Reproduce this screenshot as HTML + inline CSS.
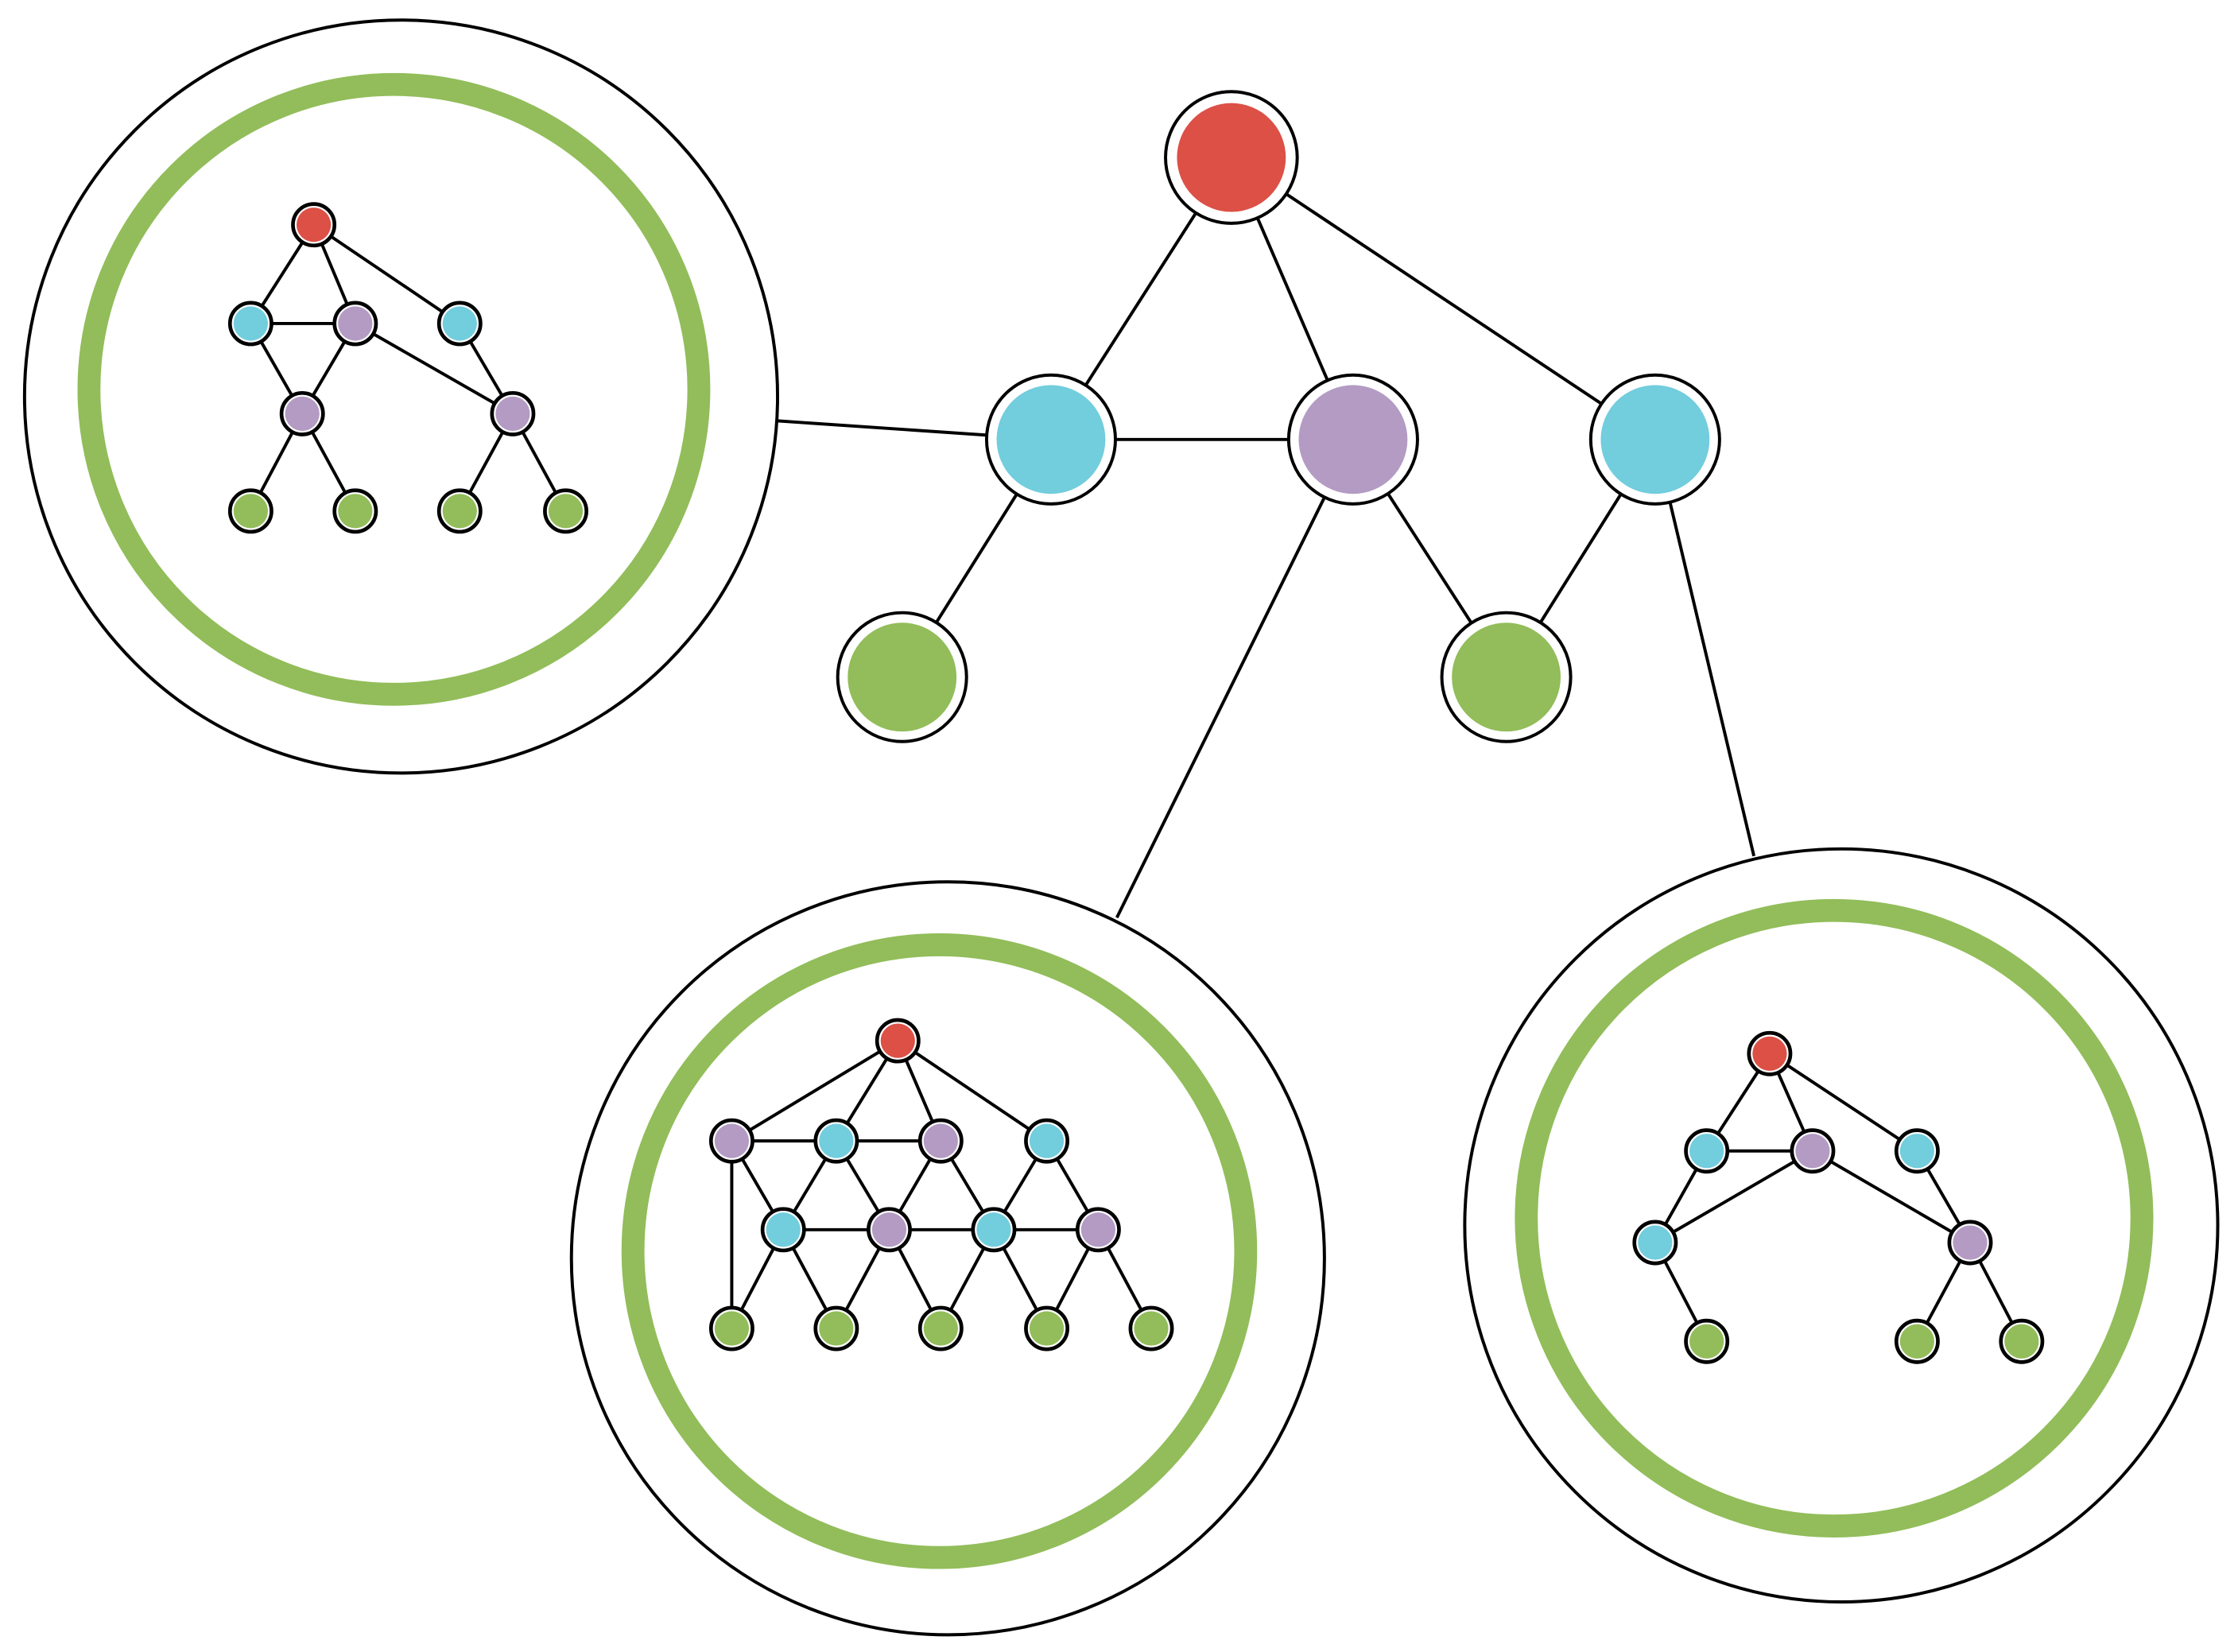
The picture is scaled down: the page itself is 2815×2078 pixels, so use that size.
<!DOCTYPE html>
<html><head><meta charset="utf-8"><style>html,body{margin:0;padding:0;background:#fff}svg{display:block}</style></head>
<body>
<svg width="2815" height="2078" viewBox="0 0 1563 1154" xmlns="http://www.w3.org/2000/svg">
<g stroke="#000" stroke-width="2.2" fill="none">
<line x1="860" y1="110" x2="734" y2="307"/>
<line x1="860" y1="110" x2="945" y2="307"/>
<line x1="860" y1="110" x2="1156" y2="307"/>
<line x1="734" y1="307" x2="945" y2="307"/>
<line x1="734" y1="307" x2="630" y2="473"/>
<line x1="945" y1="307" x2="1052" y2="473"/>
<line x1="1156" y1="307" x2="1052" y2="473"/>
<line x1="945" y1="307" x2="780" y2="641"/>
<line x1="1156" y1="307" x2="1225" y2="598"/>
<line x1="734" y1="307" x2="543" y2="294"/>
<circle cx="280" cy="277" r="263" fill="#fff"/>
<circle cx="662" cy="879" r="263" fill="#fff"/>
<circle cx="1286" cy="856" r="263" fill="#fff"/>
</g>
<g fill="none" stroke="#92bd5a" stroke-width="16">
<circle cx="275" cy="272" r="213"/>
<circle cx="656" cy="874" r="214"/>
<circle cx="1281" cy="851" r="215"/>
</g>
<g stroke="#000" stroke-width="2.2" fill="#fff">
<circle cx="860" cy="110" r="46"/><circle cx="734" cy="307" r="45"/><circle cx="945" cy="307" r="45"/><circle cx="1156" cy="307" r="45"/><circle cx="630" cy="473" r="45"/><circle cx="1052" cy="473" r="45"/>
</g>
<circle cx="860" cy="110" r="38" fill="#dc5046"/>
<circle cx="734" cy="307" r="38" fill="#72cddd"/>
<circle cx="945" cy="307" r="38" fill="#b39bc4"/>
<circle cx="1156" cy="307" r="38" fill="#72cddd"/>
<circle cx="630" cy="473" r="38" fill="#92bd5a"/>
<circle cx="1052" cy="473" r="38" fill="#92bd5a"/>

<g stroke="#000" stroke-width="2.2">
<line x1="219" y1="157" x2="175" y2="226"/><line x1="219" y1="157" x2="248" y2="226"/><line x1="219" y1="157" x2="321" y2="226"/>
<line x1="175" y1="226" x2="248" y2="226"/><line x1="175" y1="226" x2="211" y2="289"/><line x1="248" y1="226" x2="211" y2="289"/>
<line x1="248" y1="226" x2="358" y2="289"/><line x1="321" y1="226" x2="358" y2="289"/>
<line x1="211" y1="289" x2="175" y2="357"/><line x1="211" y1="289" x2="248" y2="357"/>
<line x1="358" y1="289" x2="321" y2="357"/><line x1="358" y1="289" x2="395" y2="357"/>
<line x1="627" y1="727" x2="511" y2="797"/><line x1="627" y1="727" x2="584" y2="797"/><line x1="627" y1="727" x2="657" y2="797"/><line x1="627" y1="727" x2="731" y2="797"/>
<line x1="511" y1="797" x2="657" y2="797"/><line x1="511" y1="797" x2="511" y2="928"/>
<line x1="511" y1="797" x2="547" y2="859"/><line x1="584" y1="797" x2="547" y2="859"/><line x1="584" y1="797" x2="621" y2="859"/>
<line x1="657" y1="797" x2="621" y2="859"/><line x1="657" y1="797" x2="694" y2="859"/><line x1="731" y1="797" x2="694" y2="859"/><line x1="731" y1="797" x2="767" y2="859"/>
<line x1="547" y1="859" x2="767" y2="859"/>
<line x1="547" y1="859" x2="511" y2="928"/><line x1="547" y1="859" x2="584" y2="928"/>
<line x1="621" y1="859" x2="584" y2="928"/><line x1="621" y1="859" x2="657" y2="928"/>
<line x1="694" y1="859" x2="657" y2="928"/><line x1="694" y1="859" x2="731" y2="928"/>
<line x1="767" y1="859" x2="731" y2="928"/><line x1="767" y1="859" x2="804" y2="928"/>
<line x1="1236" y1="736" x2="1192" y2="804"/><line x1="1236" y1="736" x2="1266" y2="804"/><line x1="1236" y1="736" x2="1339" y2="804"/>
<line x1="1192" y1="804" x2="1266" y2="804"/><line x1="1192" y1="804" x2="1156" y2="868"/><line x1="1266" y1="804" x2="1156" y2="868"/>
<line x1="1266" y1="804" x2="1376" y2="868"/><line x1="1339" y1="804" x2="1376" y2="868"/>
<line x1="1156" y1="868" x2="1192" y2="937"/><line x1="1376" y1="868" x2="1339" y2="937"/><line x1="1376" y1="868" x2="1412" y2="937"/>
</g>
<g stroke="#000" stroke-width="2.6" fill="#fff">
<circle cx="219" cy="157" r="14.5"/><circle cx="627" cy="727" r="14.5"/><circle cx="1236" cy="736" r="14.5"/>
<circle cx="175" cy="226" r="14.5"/><circle cx="321" cy="226" r="14.5"/><circle cx="584" cy="797" r="14.5"/><circle cx="731" cy="797" r="14.5"/><circle cx="547" cy="859" r="14.5"/><circle cx="694" cy="859" r="14.5"/><circle cx="1192" cy="804" r="14.5"/><circle cx="1339" cy="804" r="14.5"/><circle cx="1156" cy="868" r="14.5"/>
<circle cx="248" cy="226" r="14.5"/><circle cx="211" cy="289" r="14.5"/><circle cx="358" cy="289" r="14.5"/><circle cx="511" cy="797" r="14.5"/><circle cx="657" cy="797" r="14.5"/><circle cx="621" cy="859" r="14.5"/><circle cx="767" cy="859" r="14.5"/><circle cx="1266" cy="804" r="14.5"/><circle cx="1376" cy="868" r="14.5"/>
<circle cx="175" cy="357" r="14.5"/><circle cx="248" cy="357" r="14.5"/><circle cx="321" cy="357" r="14.5"/><circle cx="395" cy="357" r="14.5"/><circle cx="511" cy="928" r="14.5"/><circle cx="584" cy="928" r="14.5"/><circle cx="657" cy="928" r="14.5"/><circle cx="731" cy="928" r="14.5"/><circle cx="804" cy="928" r="14.5"/><circle cx="1192" cy="937" r="14.5"/><circle cx="1339" cy="937" r="14.5"/><circle cx="1412" cy="937" r="14.5"/>
</g>
<g fill="#dc5046"><circle cx="219" cy="157" r="12"/><circle cx="627" cy="727" r="12"/><circle cx="1236" cy="736" r="12"/></g>
<g fill="#72cddd"><circle cx="175" cy="226" r="12"/><circle cx="321" cy="226" r="12"/><circle cx="584" cy="797" r="12"/><circle cx="731" cy="797" r="12"/><circle cx="547" cy="859" r="12"/><circle cx="694" cy="859" r="12"/><circle cx="1192" cy="804" r="12"/><circle cx="1339" cy="804" r="12"/><circle cx="1156" cy="868" r="12"/></g>
<g fill="#b39bc4"><circle cx="248" cy="226" r="12"/><circle cx="211" cy="289" r="12"/><circle cx="358" cy="289" r="12"/><circle cx="511" cy="797" r="12"/><circle cx="657" cy="797" r="12"/><circle cx="621" cy="859" r="12"/><circle cx="767" cy="859" r="12"/><circle cx="1266" cy="804" r="12"/><circle cx="1376" cy="868" r="12"/></g>
<g fill="#92bd5a"><circle cx="175" cy="357" r="12"/><circle cx="248" cy="357" r="12"/><circle cx="321" cy="357" r="12"/><circle cx="395" cy="357" r="12"/><circle cx="511" cy="928" r="12"/><circle cx="584" cy="928" r="12"/><circle cx="657" cy="928" r="12"/><circle cx="731" cy="928" r="12"/><circle cx="804" cy="928" r="12"/><circle cx="1192" cy="937" r="12"/><circle cx="1339" cy="937" r="12"/><circle cx="1412" cy="937" r="12"/></g>
</svg>
</body></html>
